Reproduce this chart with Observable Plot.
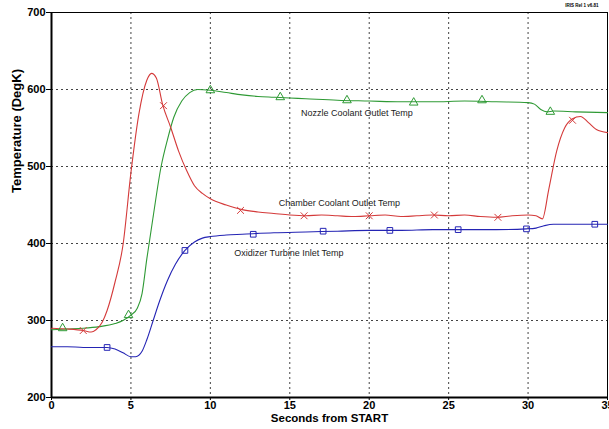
<!DOCTYPE html>
<html>
<head>
<meta charset="utf-8">
<script src="https://cdn.jsdelivr.net/npm/d3@7"></script>
<script src="https://cdn.jsdelivr.net/npm/@observablehq/plot@0.6"></script>
<style>
  html, body { margin: 0; padding: 0; background: #fff; }
  #chart svg { display: block; }
</style>
</head>
<body>
<div id="chart"></div>
<script>
// Chamber Coolant Outlet Temp (red)
const chamberT = [0,1,2,2.5,2.8,3.2,3.5,4,4.5,5,5.5,6,6.3,6.6,7,7.5,8,8.5,9,9.5,10,11,12,13,14,15,16,17,18,19,20,21,22,23,24,25,26,27,28,29,30,30.5,30.9,31.3,31.8,32.3,32.8,33.3,33.8,34.3,35];
const chamberV = [290,289,287,285,288,298,313,350,398,492,568,612,621,615,580,551,520,495,475,465,458,450,444,441,439,437,436,437,436,435,436,437,435,436,437,436,437,435,434,436,437,436,432,470,520,550,562,565,557,548,544];
// Nozzle Coolant Outlet Temp (green)
const nozzleT = [0,1,2,3,4,4.5,5,5.4,5.7,6,6.4,6.9,7.3,7.7,8.2,8.7,9.2,10,11,12,13,14,15,16,18,20,22,24,26,28,30,30.4,30.8,31.2,31.6,33,35];
const nozzleV = [288,289,290,292,296,300,307,316,335,380,435,500,535,564,585,596,600,599,596,593,591,590,589,588,586,585,584,584,585,584,583,581,574,571,572,571,570];
// Oxidizer Turbine Inlet Temp (blue)
const oxidT = [0,1,2,3,3.5,4,4.5,5,5.3,5.7,6,6.4,6.8,7.3,7.8,8.4,9,9.5,10,11,12,14,16,18,20,22,24,26,28,29.9,30.5,31,31.6,33,35];
const oxidV = [266,266,265,265,265,263,258,253,253,260,275,300,325,352,373,391,402,407,409,411,412,414,415,416,417,417,418,418,418,419,420,423,425,425,425];

// marker positions
const nozzleMarkT = [0.7,4.85,10,14.4,18.6,22.8,27.1,31.4];
const nozzleMarkV = [290,307,599,590,586,583,586,571];
const chamberMarkT = [2.0,7.05,11.9,15.9,20,24.1,28.1,32.8];
const chamberMarkV = [287,579,443,436,436,437,434,560];
const oxidMarkT = [3.5,8.4,12.7,17.1,21.3,25.6,29.9,34.2];
const oxidMarkV = [265,391,412,416,417,418,419,425];

// curve labels
const labelText = ["Nozzle Coolant Outlet Temp","Chamber Coolant Outlet Temp","Oxidizer Turbine Inlet Temp"];
const labelT = [15.7,14.3,11.5];
const labelV = [569,453,387];

const xTicks = [0,5,10,15,20,25,30,35];
const yTicks = [200,300,400,500,600,700];
const xTitle = "Seconds from START";
const yTitle = "Temperature (DegK)";

const red = "#d43a3a", green = "#2f9a35", blue = "#2424b4";

const toRows = (ts, vs) => ts.map((t, i) => ({t, v: vs[i]}));
const chamber = toRows(chamberT, chamberV);
const nozzle = toRows(nozzleT, nozzleV);
const oxid = toRows(oxidT, oxidV);
const labels = labelText.map((s, i) => ({s, t: labelT[i], v: labelV[i]}));

const chart = Plot.plot({
  width: 609,
  height: 429,
  marginLeft: 51,
  marginRight: 2,
  marginTop: 12,
  marginBottom: 32,
  style: {fontFamily: "'Liberation Sans Narrow', 'Liberation Sans', Arial, sans-serif", fontSize: "11px", fontWeight: "bold", color: "#000", background: "#fff"},
  x: {domain: [0, 35], ticks: xTicks, tickSize: 3, tickPadding: 1, label: null},
  y: {domain: [200, 700], ticks: yTicks, tickSize: 5, tickPadding: 1, label: null},
  marks: [
    Plot.ruleX(xTicks.slice(1, -1), {stroke: "#444", strokeDasharray: "2,3", strokeWidth: 1}),
    Plot.ruleY(yTicks.slice(1, -1), {stroke: "#444", strokeDasharray: "2,3", strokeWidth: 1}),
    Plot.frame({stroke: "#000", strokeWidth: 1}),
    Plot.ruleX([0], {stroke: "#000", strokeWidth: 2}),
    Plot.ruleY([200], {stroke: "#000", strokeWidth: 2}),
    Plot.line(nozzle, {x: "t", y: "v", stroke: green, strokeWidth: 1.1, curve: "monotone-x"}),
    Plot.line(chamber, {x: "t", y: "v", stroke: red, strokeWidth: 1.1, curve: "monotone-x"}),
    Plot.line(oxid, {x: "t", y: "v", stroke: blue, strokeWidth: 1.1, curve: "monotone-x"}),
    Plot.dot(nozzleMarkT, {x: d => d, y: (d, i) => nozzleMarkV[i], symbol: "triangle", r: 3.2, stroke: green, fill: "none", strokeWidth: 1}),
    Plot.dot(chamberMarkT, {x: d => d, y: (d, i) => chamberMarkV[i], symbol: "times", r: 3.2, stroke: red, fill: "none", strokeWidth: 1}),
    Plot.dot(oxidMarkT, {x: d => d, y: (d, i) => oxidMarkV[i], symbol: "square", r: 3.2, stroke: blue, fill: "none", strokeWidth: 1}),
    Plot.text(labels, {x: "t", y: "v", text: "s", textAnchor: "start", fontSize: 9, fontWeight: "normal", fill: "#222", fontFamily: "'Liberation Sans', Arial, sans-serif"}),
    Plot.text([yTitle], {frameAnchor: "left", dx: -35, dy: -12, rotate: -90, fontSize: 13, fontWeight: "bold", fill: "#000", fontFamily: "'Liberation Sans', Arial, sans-serif"}),
    Plot.text([xTitle], {frameAnchor: "bottom", dy: 24, fontSize: 11.5, fontWeight: "bold", fill: "#000", fontFamily: "'Liberation Sans Narrow', 'Liberation Sans', Arial, sans-serif"}),
    Plot.text(["IRIS Rel 1 v6.81"], {frameAnchor: "top-right", dx: -9, dy: -9, fontSize: 4.5, fill: "#000", fontWeight: "bold"})
  ]
});
document.getElementById("chart").appendChild(chart);
</script>
</body>
</html>
